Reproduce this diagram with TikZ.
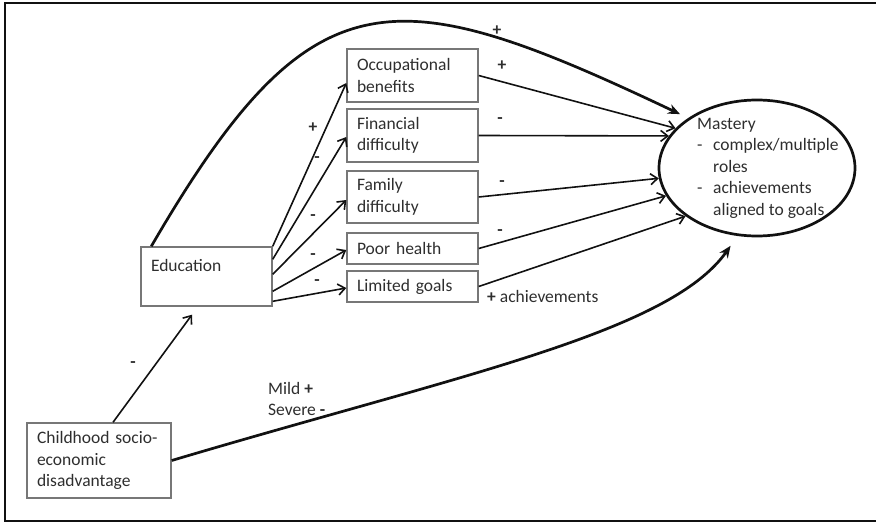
\documentclass[tikz,border=0pt]{standalone}
\usepackage{fontspec}
\setmainfont{Carlito}
\usetikzlibrary{arrows.meta,shapes.geometric}
\definecolor{boxgray}{HTML}{777777}
\definecolor{txt}{HTML}{2E2E2E}
\definecolor{ln}{HTML}{111111}
\begin{document}
\begin{tikzpicture}[x=1pt,y=-1pt,
  every node/.style={font=\fontsize{17.5}{21.5}\selectfont, text=txt},
  box/.style={draw=boxgray, line width=1.4pt, rectangle, inner sep=0pt, minimum width=131pt, text width=111pt, align=left},
  thinarrow/.style={draw=ln, line width=1.6pt, -{Straight Barb[length=7pt,width=11pt]}},
  thickarrow/.style={draw=ln, line width=2.7pt, -{Stealth[length=12pt,width=10pt]}},
  sign/.style={inner sep=0pt, font=\fontsize{17.5}{21.5}\selectfont\bfseries}
]
\useasboundingbox (0,0) rectangle (876,522);
\draw[ln, line width=2pt] (876,2.5) -- (4.5,2.5) -- (4.5,520.5) -- (876,520.5);

\node[box, minimum height=59pt] (edu) at (206.5,276.5) {Education\\\mbox{}};
\node[box, minimum height=53pt] (occ) at (412.5,75.5) {Occupational\\benefits};
\node[box, minimum height=53pt] (fin) at (412.5,135.5) {Financial\\difficulty};
\node[box, minimum height=52pt] (fam) at (412.5,197) {Family\\difficulty};
\node[box, minimum height=31pt] (poor) at (412.5,248.5) {Poor health};
\node[box, minimum height=31pt] (lim) at (412.5,286.5) {Limited goals};
\node[box, minimum width=144pt, text width=124pt, minimum height=75pt] (child) at (99,460.5) {Childhood socio-\\economic\\disadvantage};
\node[draw=ln, line width=2.7pt, ellipse, minimum width=196pt, minimum height=136pt, inner sep=0pt] (mastery) at (757,168) {};
\node[anchor=west, align=left, inner sep=0pt] (mtext) at (697,168) {Mastery\\\makebox[16pt][l]{-}complex/multiple\\\hspace*{16pt}roles\\\makebox[16pt][l]{-}achievements\\\hspace*{16pt}aligned to goals};

% connectors
\draw[thickarrow, shorten >=9pt] ([xshift=11pt]edu.north west) .. controls (312,-30) and (392,-22.4) .. (mastery.144);
\draw[thinarrow] (edu.north east) -- ([yshift=-7.5pt]occ.west);
\draw[thinarrow] ([yshift=-13pt]edu.north east) -- ([yshift=-1.5pt]fin.west);
\draw[thinarrow] ([yshift=-28pt]edu.north east) -- ([yshift=-3pt]fam.west);
\draw[thinarrow] ([yshift=-45pt]edu.north east) -- ([yshift=-1.5pt]poor.west);
\draw[thinarrow] ([yshift=-55pt]edu.north east) -- ([yshift=-1.5pt]lim.west);

\draw[thinarrow] (occ.east) -- (mastery.154.5);
\draw[thinarrow] (fin.east) -- (mastery.160);
\draw[thinarrow] (fam.east) -- (mastery.186);
\draw[thinarrow] (poor.east) -- (mastery.197.5);
\draw[thinarrow] (lim.east) -- (mastery.214);

\draw[thinarrow] ([xshift=14pt]child.north) -- ([xshift=-14.5pt,yshift=-8pt]edu.south);
\draw[thickarrow, shorten >=12pt] (child.east) .. controls (459,375) and (669,333) .. (mastery.254);

% labels
\node[sign] (ptop) at (497,31) {+};
\node[sign] (pocc) at (502,66) {+};
\node[sign] (mfin) at (500,121) {-};
\node[sign] (mfam) at (502,184) {-};
\node[sign] (mpoor) at (500,233) {-};
\node[anchor=west, inner sep=0pt] (ach) at (487,296) {\textbf{+} achievements};
\node[sign] (pedu) at (313,128) {+};
\node[sign] (medu1) at (317,160) {-};
\node[sign] (medu2) at (313,218) {-};
\node[sign] (medu3) at (313,257) {-};
\node[sign] (medu4) at (317,283) {-};
\node[sign] (mchild) at (133,365) {-};
\node[anchor=west, align=left, inner sep=0pt] (mild) at (268,399) {Mild \textbf{+}\\Severe \textbf{-}};
\end{tikzpicture}
\end{document}
